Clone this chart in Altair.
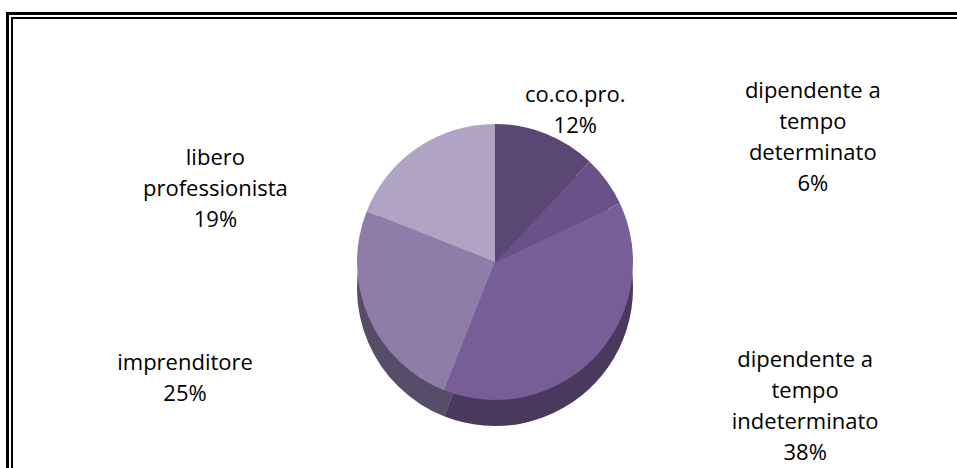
import altair as alt
import pandas as pd
import math

# ---- data ----
categories = [
    "co.co.pro.",
    "dipendente a tempo determinato",
    "dipendente a tempo indeterminato",
    "imprenditore",
    "libero professionista",
]
percents = [12, 6, 38, 25, 19]
label_text = [
    "co.co.pro.",
    "dipendente a\ntempo\ndeterminato",
    "dipendente a\ntempo\nindeterminato",
    "imprenditore",
    "libero\nprofessionista",
]
slice_colors = ["#5A4773", "#6A5289", "#775E96", "#8E7DA9", "#B1A3C3"]

df = pd.DataFrame({
    "cat": categories,
    "pct": percents,
    "lab": label_text,
    "idx": list(range(len(categories))),
})

FONT = "Open Sans"
CX, CY = 495, 262
R = 138
DEPTH = 26

color = alt.Color("cat:N", scale=alt.Scale(domain=categories, range=slice_colors), legend=None)
theta = alt.Theta("pct:Q", stack=True)
order = alt.Order("idx:Q", sort="ascending")

base = alt.Chart(df)

side = base.mark_arc(outerRadius=R).encode(
    theta=theta, color=color, order=order,
    x=alt.value(CX), y=alt.value(CY + DEPTH),
)
side_shade = base.mark_arc(outerRadius=R, color="black", opacity=0.38).encode(
    theta=theta, order=order,
    x=alt.value(CX), y=alt.value(CY + DEPTH),
)
top = base.mark_arc(outerRadius=R).encode(
    theta=theta, color=color, order=order,
    x=alt.value(CX), y=alt.value(CY),
)
pie = alt.layer(side, side_shade, top)

labels_base = base.transform_window(
    cum="sum(pct)", sort=[{"field": "idx"}]
).transform_joinaggregate(
    total="sum(pct)"
).transform_calculate(
    mid="(datum.cum - datum.pct / 2) / datum.total",
    txt="split(datum.lab + '\\n' + datum.pct + '%', '\\n')",
)

lab_theta = alt.Theta("mid:Q", stack=False,
                      scale=alt.Scale(domain=[0, 1], range=[0, 2 * math.pi]))

text_kw = dict(font=FONT, fontSize=22, lineHeight=31, color="black",
               align="center", baseline="middle")


def label_layer(cond, radius, dx, dy):
    return labels_base.transform_filter(cond).mark_text(
        radius=radius, dx=dx, dy=dy, **text_kw
    ).encode(theta=lab_theta, text="txt:N", x=alt.value(CX), y=alt.value(CY))


labels = alt.layer(
    label_layer("datum.mid < 0.1", 150, 25, -28),
    label_layer("datum.mid >= 0.1 && datum.mid < 0.25", 195, 160, -56),
    label_layer("datum.mid >= 0.25 && datum.mid < 0.5", 195, 168, -35),
    label_layer("datum.mid >= 0.5 && datum.mid < 0.8", 195, -131, 24),
    label_layer("datum.mid >= 0.8", 195, -170, 57),
)

# decorative double frame (left and top edges visible)
frame_df = pd.DataFrame({"k": [0]})
fb = alt.Chart(frame_df)
frame = alt.layer(
    fb.mark_rule(color="black", strokeWidth=3).encode(x=alt.value(6), x2=alt.value(957), y=alt.value(13.5)),
    fb.mark_rule(color="black", strokeWidth=2).encode(x=alt.value(12), x2=alt.value(957), y=alt.value(18)),
    fb.mark_rule(color="black", strokeWidth=3).encode(x=alt.value(7.5), y=alt.value(12), y2=alt.value(468)),
    fb.mark_rule(color="black", strokeWidth=2).encode(x=alt.value(12), y=alt.value(17), y2=alt.value(468)),
)

chart = alt.layer(
    pie, labels, frame
).resolve_scale(
    theta="independent"
).properties(
    width=957, height=468, padding=0, autosize=alt.AutoSizeParams(type="none"),
    background="white",
).configure_view(stroke=None)

chart.save("out.html", embed_options={"renderer": "svg", "actions": False})
